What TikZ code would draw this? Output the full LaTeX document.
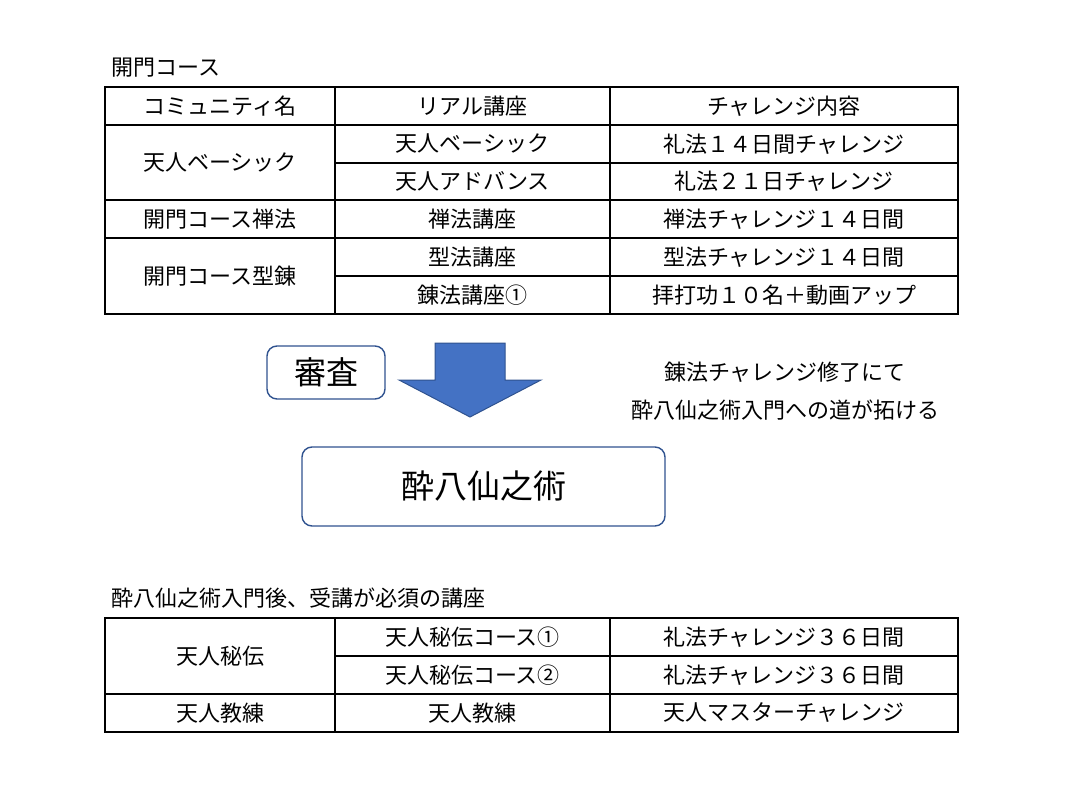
\documentclass[tikz,border=0pt]{standalone}
\usepackage{fontspec}
\setmainfont{Noto Sans CJK JP}
\definecolor{arrowblue}{HTML}{4472C4}
\definecolor{edgeblue}{HTML}{2F528F}

\begin{document}
\begin{tikzpicture}
  [x=1pt,y=-1pt,every node/.style={font=\fontsize{22}{26}\selectfont}]
  \tikzstyle{cell} = [draw,line width=1.6pt,inner sep=0pt]
  \tikzstyle{plate} = [draw=edgeblue,line width=1.4pt,rounded corners=10pt]
  \useasboundingbox (0,0) rectangle (1079,800);

  % first table
  \node[anchor=west] (title1) at (108,68) {開門コース};
  \foreach \name/\x/\y/\w/\h/\txt in {
      a1/220/106/230/38/コミュニティ名, a2/472.5/106/275/38/リアル講座, a3/784/106/348/38/チャレンジ内容,
      b1/220/162.5/230/75/天人ベーシック, b2/472.5/144/275/38/天人ベーシック, b3/784/144/348/38/礼法１４日間チャレンジ,
      c2/472.5/181.5/275/37/天人アドバンス, c3/784/181.5/348/37/礼法２１日チャレンジ,
      d1/220/219/230/38/開門コース禅法, d2/472.5/219/275/38/禅法講座, d3/784/219/348/38/禅法チャレンジ１４日間,
      e1/220/276/230/76/開門コース型錬, e2/472.5/257/275/38/型法講座, e3/784/257/348/38/型法チャレンジ１４日間,
      f2/472.5/295/275/38/錬法講座①, f3/784/295/348/38/拝打功１０名＋動画アップ}
    \node[cell,minimum width=\w,minimum height=\h] (\name) at (\x,\y) {\txt};

  % middle part
  \node[plate,minimum width=118,minimum height=53,font=\fontsize{32}{36}\selectfont] (exam) at (326,372.5) {審査};
  \filldraw[fill=arrowblue,draw=edgeblue,line width=1pt]
    (435,343) -- (505,343) -- (505,380) -- (541,380) -- (470,417) -- (399,380) -- (435,380) -- cycle;
  \node (note1) at (785,372) {錬法チャレンジ修了にて};
  \node (note2) at (785,410) {酔八仙之術入門への道が拓ける};
  \node[plate,minimum width=363,minimum height=79,font=\fontsize{33}{38}\selectfont] (art) at (483.5,486.5) {酔八仙之術};

  % second table
  \node[anchor=west] (title2) at (108,598) {酔八仙之術入門後、受講が必須の講座};
  \foreach \name/\x/\y/\w/\h/\txt in {
      g1/220/656/230/76/天人秘伝, g2/472.5/637/275/38/天人秘伝コース①, g3/784/637/348/38/礼法チャレンジ３６日間,
      h2/472.5/675/275/38/天人秘伝コース②, h3/784/675/348/38/礼法チャレンジ３６日間,
      i1/220/713/230/38/天人教練, i2/472.5/713/275/38/天人教練, i3/784/713/348/38/天人マスターチャレンジ}
    \node[cell,minimum width=\w,minimum height=\h] (\name) at (\x,\y) {\txt};

\end{tikzpicture}
\end{document}
